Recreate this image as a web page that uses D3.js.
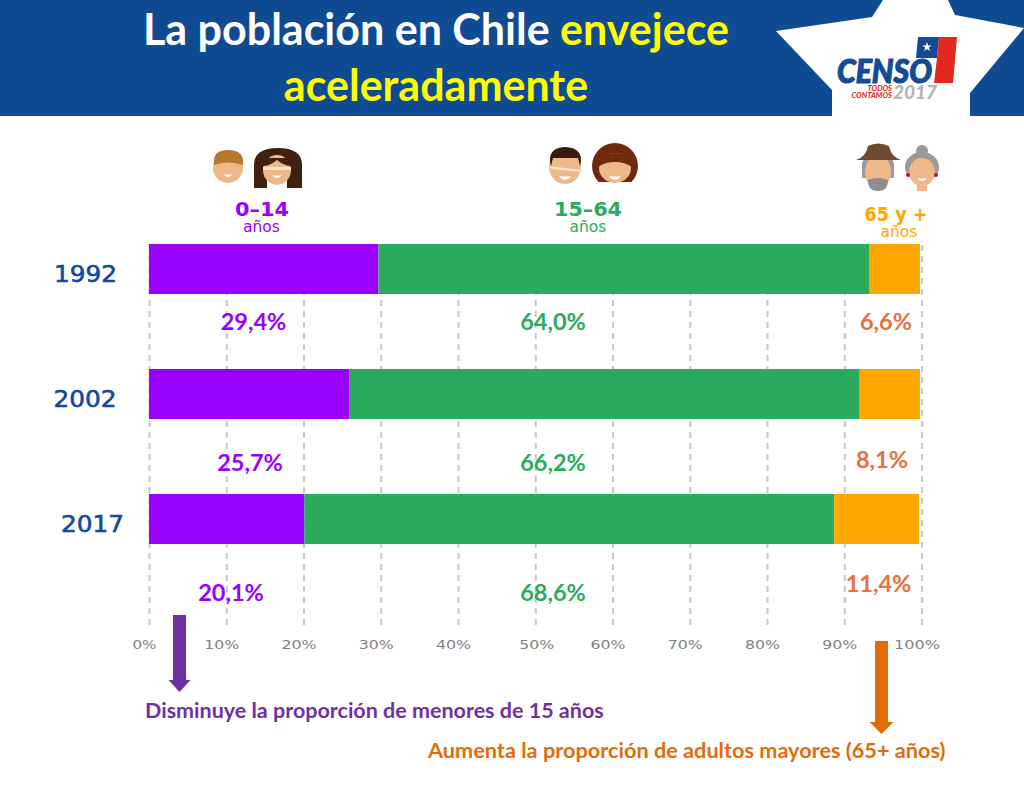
<!DOCTYPE html>
<html>
<head>
<meta charset="utf-8">
<script src="https://cdn.jsdelivr.net/npm/d3@7"></script>
<style>
  html, body { margin: 0; padding: 0; background: #fff; }
  svg { display: block; }
  text { font-family: Lato, "Open Sans", sans-serif; }
  .wide { font-family: "DejaVu Sans", Verdana, sans-serif; }
</style>
</head>
<body>
<svg id="chart" width="1024" height="791"></svg>
<script>
// Data
const years = ["1992", "2002", "2017"];
const groups = ["joven", "adulto", "mayor"];
const joven = [29.7, 25.9, 20.1];
const adulto = [63.5, 66.1, 68.6];
const mayor = [6.6, 7.8, 11.0];
const labelsJoven = ["29,4%", "25,7%", "20,1%"];
const labelsAdulto = ["64,0%", "66,2%", "68,6%"];
const labelsMayor = ["6,6%", "8,1%", "11,4%"];
const ticks = [0, 10, 20, 30, 40, 50, 60, 70, 80, 90, 100];

const colors = { joven: "#9900ff", adulto: "#2aab5f", mayor: "#ffa600" };
const labelColors = { joven: "#9900ff", adulto: "#2aab5f", mayor: "#e8703a" };

// Where the value labels sit, the slide places them by hand
const labelX = { joven: [253.5, 250, 231], adulto: [553, 553, 553], mayor: [886, 882, 878.5] };
const labelY = { joven: [330, 471, 601], adulto: [330, 471, 601], mayor: [330, 468, 592] };
const yearX = [85.5, 85, 92.5];

const svg = d3.select("#chart");

// Scales
const x = d3.scaleLinear().domain([0, 100]).range([149, 921.5]);
const y = d3.scaleBand().domain(years).range([244, 544]).paddingInner(0.6);

// Header band
svg.append("rect").attr("width", 1024).attr("height", 116).attr("fill", "#0f4b92");

const star = [[883, 0], [872, 17], [776, 31], [832, 90], [832, 116], [970, 116], [970, 93], [1024, 28], [955, 15], [948, 0]];
svg.append("polygon")
  .attr("points", star.map(p => p.join(",")).join(" "))
  .attr("fill", "#fff");

const title = svg.append("text")
  .attr("x", 436).attr("y", 45)
  .attr("text-anchor", "middle")
  .attr("font-size", 43).attr("font-weight", 700)
  .attr("fill", "#fff");
title.append("tspan").text("La población en Chile ");
title.append("tspan").attr("fill", "#ffff00").text("envejece");

svg.append("text")
  .attr("x", 436).attr("y", 101)
  .attr("text-anchor", "middle")
  .attr("font-size", 43).attr("font-weight", 700)
  .attr("fill", "#ffff00")
  .text("aceleradamente");

// Census logo
const logo = svg.append("g");
logo.append("polygon").attr("points", "918,37 939,37 937,58 916,58").attr("fill", "#144b94");
logo.append("polygon").attr("points", "939,37 957,37 953,83 934,83 937,58").attr("fill", "#e5281f");
logo.append("path")
  .attr("d", d3.symbol(d3.symbolStar, 28)())
  .attr("transform", "translate(927,47)")
  .attr("fill", "#fff");
logo.append("text")
  .attr("x", 837).attr("y", 83)
  .attr("font-size", 32).attr("font-weight", 900).attr("font-style", "italic")
  .attr("fill", "#144b94").attr("stroke", "#144b94").attr("stroke-width", 1.2)
  .attr("textLength", 95).attr("lengthAdjust", "spacingAndGlyphs")
  .text("CENSO");
logo.append("text")
  .attr("x", 892).attr("y", 91).attr("text-anchor", "end")
  .attr("font-size", 7.5).attr("font-weight", 900).attr("font-style", "italic")
  .attr("fill", "#e5281f").text("TODOS");
logo.append("text")
  .attr("x", 892).attr("y", 98).attr("text-anchor", "end")
  .attr("font-size", 7.5).attr("font-weight", 900).attr("font-style", "italic")
  .attr("fill", "#e5281f").text("CONTAMOS");
logo.append("text")
  .attr("x", 893).attr("y", 99)
  .attr("font-size", 19).attr("font-weight", 900).attr("font-style", "italic")
  .attr("fill", "#b4b4b4").text("2017");

// Grid and axis
const axis = d3.axisBottom(x)
  .tickValues(ticks)
  .tickFormat(d => d + "%")
  .tickSize(-381)
  .tickPadding(15);

const axisG = svg.append("g")
  .attr("transform", "translate(0,625)")
  .call(axis);
axisG.select(".domain").remove();
axisG.selectAll("line")
  .attr("stroke", "#c8c8c8")
  .attr("stroke-width", 2)
  .attr("stroke-dasharray", "6 5");
axisG.selectAll("text")
  .attr("class", "wide")
  .attr("dx", d => d === 50 ? 1 : -5)
  .attr("font-size", 13)
  .attr("fill", "#7f7f7f")
  .attr("textLength", d => String(d).length * 11 + 13)
  .attr("lengthAdjust", "spacingAndGlyphs");

// Stacked bars
const table = years.map((year, i) => ({ year, joven: joven[i], adulto: adulto[i], mayor: mayor[i] }));
const series = d3.stack().keys(groups)(table);

svg.append("g")
  .selectAll("g")
  .data(series)
  .join("g")
  .attr("fill", d => colors[d.key])
  .selectAll("rect")
  .data(d => d)
  .join("rect")
  .attr("x", d => x(d[0]))
  .attr("y", d => y(d.data.year))
  .attr("width", d => x(d[1]) - x(d[0]))
  .attr("height", y.bandwidth());

// Year labels
svg.append("g")
  .selectAll("text")
  .data(years)
  .join("text")
  .attr("class", "wide")
  .attr("x", (d, i) => yearX[i])
  .attr("y", d => y(d) + y.bandwidth() / 2 + 13)
  .attr("text-anchor", "middle")
  .attr("font-size", 23)
  .attr("fill", "#114a9b").attr("stroke", "#114a9b").attr("stroke-width", 0.6)
  .attr("textLength", 63).attr("lengthAdjust", "spacingAndGlyphs")
  .text(d => d);

// Value labels
const labelSets = { joven: labelsJoven, adulto: labelsAdulto, mayor: labelsMayor };
groups.forEach(key => {
  svg.append("g")
    .selectAll("text")
    .data(labelSets[key])
    .join("text")
    .attr("x", (d, i) => labelX[key][i])
    .attr("y", (d, i) => labelY[key][i])
    .attr("text-anchor", "middle")
    .attr("font-size", 23.5).attr("font-weight", 700)
    .attr("fill", labelColors[key])
    .text(d => d);
});

// Age group headings
const headings = [
  { text: "0–14", x: 262, y: 216, len: 54, color: colors.joven, subX: 261.5, subY: 232 },
  { text: "15–64", x: 588, y: 216, len: 68, color: colors.adulto, subX: 588, subY: 232 },
  { text: "65 y +", x: 896, y: 221, len: 63, color: colors.mayor, subX: 899, subY: 237 }
];
headings.forEach(h => {
  svg.append("text").attr("class", "wide")
    .attr("x", h.x).attr("y", h.y).attr("text-anchor", "middle")
    .attr("font-size", 19.5).attr("font-weight", 700).attr("fill", h.color)
    .attr("textLength", h.len).attr("lengthAdjust", "spacingAndGlyphs")
    .text(h.text);
  svg.append("text").attr("class", "wide")
    .attr("x", h.subX).attr("y", h.subY).attr("text-anchor", "middle")
    .attr("font-size", 15.5).attr("fill", h.color)
    .text("años");
});

// Face icons
const skin = "#efb888";
const icons = svg.append("g");

function smile(cx, cy, w) {
  icons.append("path")
    .attr("d", `M${cx - w},${cy} Q${cx},${cy + 1} ${cx + w},${cy} Q${cx},${cy + w * 1.3} ${cx - w},${cy}Z`)
    .attr("fill", "#fff");
}
function face(cx, cy, rx, ry) {
  icons.append("ellipse").attr("cx", cx).attr("cy", cy).attr("rx", rx).attr("ry", ry).attr("fill", skin);
}

// boy
face(228, 168, 15, 15);
icons.append("path").attr("d", "M214,165 Q212,150 228,150 Q245,150 243,165 Q228,160 214,165Z").attr("fill", "#b5782c");
smile(228, 174, 5);

// girl
icons.append("path").attr("d", "M254,188 L254,165 Q254,148 278,148 Q302,148 302,165 L302,188 L287,188 L287,178 L267,178 L267,188Z").attr("fill", "#40200f");
face(277, 170, 14, 15);
icons.append("path").attr("d", "M262,166 Q270,166 277,160 Q284,166 292,166 L292,158 L262,158Z").attr("fill", "#40200f");
icons.append("rect").attr("x", 263).attr("y", 167).attr("width", 28).attr("height", 3).attr("fill", "#fbe6d4");
smile(277, 175, 5);

// man
face(565, 167, 16, 17);
icons.append("path").attr("d", "M551,166 Q546,148 565,147 Q585,148 580,166 L578,158 L553,158Z").attr("fill", "#3a1a10");
icons.append("polygon").attr("points", "548,166 582,170 582,172 552,169").attr("fill", "#fbe6d4");
smile(565, 176, 6);

// woman
icons.append("path").attr("d", "M598.5,182 A23,23 0 1 1 631.5,182Z").attr("fill", "#6f2a0e");
face(615, 168, 16, 15);
icons.append("path").attr("d", "M598,167 Q600,153 615,153 Q630,153 632,167 Q625,162 615,162 Q605,162 598,167Z").attr("fill", "#6f2a0e");
smile(615, 176, 6);

// old man
icons.append("path").attr("d", "M862,165 Q862,155 878,155 Q894,155 894,165 L894,178 L862,178Z").attr("fill", "#9c9c9c");
face(878, 172, 13, 17);
icons.append("path").attr("d", "M868,180 Q878,176 888,180 Q888,192 878,191 Q868,192 868,180Z").attr("fill", "#8e8e8e");
icons.append("path").attr("d", "M856,160 Q866,157 868,146 Q878,141 889,146 Q891,157 901,160Z").attr("fill", "#6e4b30");

// old woman
icons.append("circle").attr("cx", 922).attr("cy", 151).attr("r", 6).attr("fill", "#9a9a9a");
icons.append("ellipse").attr("cx", 922).attr("cy", 167).attr("rx", 17).attr("ry", 15).attr("fill", "#9a9a9a");
icons.append("rect").attr("x", 917).attr("y", 182).attr("width", 10).attr("height", 9).attr("fill", skin);
face(922, 172, 13, 14);
icons.append("circle").attr("cx", 908).attr("cy", 175).attr("r", 2).attr("fill", "#c8102e");
icons.append("circle").attr("cx", 936).attr("cy", 175).attr("r", 2).attr("fill", "#c8102e");
smile(922, 178, 5);

// Trend arrows and their captions
const arrow = d3.line();
function drawArrow(cx, top, bottom, shaft, head, headH, color) {
  const pts = [
    [cx - shaft, top], [cx + shaft, top], [cx + shaft, bottom - headH],
    [cx + head, bottom - headH], [cx, bottom], [cx - head, bottom - headH],
    [cx - shaft, bottom - headH]
  ];
  svg.append("path").attr("d", arrow(pts) + "Z").attr("fill", color);
}
drawArrow(179.5, 615, 692, 6.5, 11, 12, "#7030a0");
drawArrow(881.5, 641, 734, 6.5, 12, 12, "#e36c09");

svg.append("text")
  .attr("x", 145).attr("y", 718)
  .attr("font-size", 21.5).attr("font-weight", 700)
  .attr("fill", "#7030a0")
  .text("Disminuye la proporción de menores de 15 años");

svg.append("text")
  .attr("x", 428).attr("y", 758)
  .attr("font-size", 21.7).attr("font-weight", 700)
  .attr("fill", "#e36c09")
  .text("Aumenta la proporción de adultos mayores (65+ años)");
</script>
</body>
</html>
